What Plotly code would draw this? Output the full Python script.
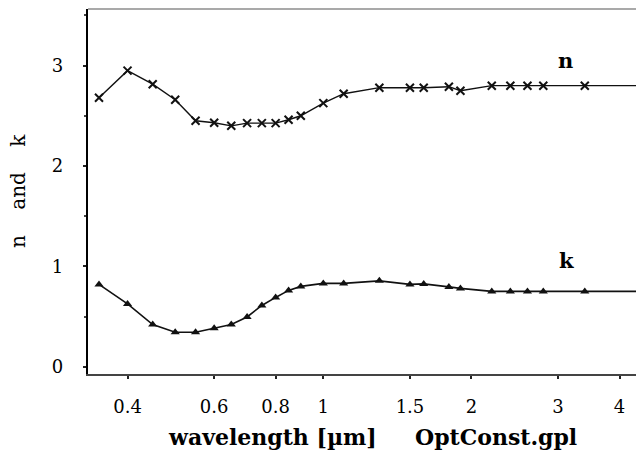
import plotly.graph_objects as go
import math

# ---- data ----
wavelength = [0.35, 0.4, 0.45, 0.5, 0.55, 0.6, 0.65, 0.7, 0.75, 0.8, 0.85, 0.9,
              1.0, 1.1, 1.3, 1.5, 1.6, 1.8, 1.9, 2.2, 2.4, 2.6, 2.8, 3.4, 5.0]
n_values = [2.68, 2.95, 2.815, 2.66, 2.45, 2.43, 2.40, 2.427, 2.427, 2.427, 2.46, 2.50,
            2.626, 2.72, 2.78, 2.78, 2.78, 2.79, 2.75, 2.80, 2.80, 2.80, 2.80, 2.80, 2.80]
k_values = [0.82, 0.625, 0.42, 0.343, 0.343, 0.383, 0.42, 0.495, 0.61, 0.69, 0.76, 0.80,
            0.83, 0.83, 0.855, 0.82, 0.825, 0.795, 0.78, 0.75, 0.75, 0.75, 0.75, 0.75, 0.75]
x_tick_vals = [0.4, 0.6, 0.8, 1, 1.5, 2, 3, 4]
x_tick_text = ["0.4", "0.6", "0.8", "1", "1.5", "2", "3", "4"]
y_tick_vals = [0, 1, 2, 3]
y_tick_text = ["0", "1", "2", "3"]

SERIF = "DejaVu Serif"
NB = "\u00a0"

fig = go.Figure()
fig.add_trace(go.Scatter(
    x=wavelength, y=n_values, mode="lines+markers", name="n",
    line=dict(color="#111111", width=1.4),
    marker=dict(symbol="x-thin", size=8, line=dict(color="#111111", width=2)),
))
fig.add_trace(go.Scatter(
    x=wavelength, y=k_values, mode="lines+markers", name="k",
    line=dict(color="#111111", width=1.6),
    marker=dict(symbol="triangle-up", size=8, color="#111111"),
))

fig.update_layout(
    width=636, height=453,
    margin=dict(l=88, r=0, t=9, b=79),
    paper_bgcolor="white", plot_bgcolor="white",
    showlegend=False,
    font=dict(family=SERIF, color="#111111"),
    xaxis=dict(
        type="log", range=[-0.4783, 0.6356],
        tickvals=x_tick_vals, ticktext=x_tick_text,
        showgrid=False, zeroline=False,
        showline=True, linecolor="#444444", linewidth=1.5,
        ticks="outside", ticklen=3, tickwidth=2, tickcolor="#222222",
        tickfont=dict(family=SERIF, size=18, color="#000000"),
        ticklabelstandoff=13,
    ),
    yaxis=dict(
        range=[-0.073, 3.564],
        tickvals=y_tick_vals, ticktext=y_tick_text,
        showgrid=False, zeroline=False,
        showline=True, linecolor="#000000", linewidth=2.2,
        ticks="outside", ticklen=3, tickwidth=2, tickcolor="#222222",
        minor=dict(tickvals=[0.5, 1.5, 2.5, 3.5], ticks="outside", ticklen=2,
                   tickwidth=1.5, tickcolor="#444444"),
        tickfont=dict(family=SERIF, size=18, color="#000000"),
        ticklabelstandoff=16,
    ),
    shapes=[dict(type="line", xref="paper", yref="paper", x0=0, x1=1, y0=1, y1=1,
                 line=dict(color="#555555", width=1.2))],
    annotations=[
        dict(text="<b>n</b>", x=math.log10(3.11), y=3.05, xref="x", yref="y",
             xanchor="center", yanchor="middle",
             showarrow=False, font=dict(family=SERIF, size=21, color="#000000")),
        dict(text="<b>k</b>", x=math.log10(3.12), y=1.06, xref="x", yref="y",
             xanchor="center", yanchor="middle",
             showarrow=False, font=dict(family=SERIF, size=21, color="#000000")),
        dict(text="n" + NB * 4 + "and" + NB * 4 + "k", xref="paper", yref="paper",
             x=0, y=(374 - 191) / 365, xshift=-70, xanchor="center", yanchor="middle",
             textangle=-90, showarrow=False,
             font=dict(family=SERIF, size=20, color="#000000")),
        dict(text="<b>wavelength [µm]</b>", xref="paper", yref="paper",
             x=(272 - 88) / 548, y=(374 - 437) / 365, xanchor="center", yanchor="middle",
             showarrow=False, font=dict(family=SERIF, size=22, color="#000000")),
        dict(text="<b>OptConst.gpl</b>", xref="paper", yref="paper",
             x=(496 - 88) / 548, y=(374 - 437) / 365, xanchor="center", yanchor="middle",
             showarrow=False, font=dict(family=SERIF, size=22, color="#000000")),
    ],
)

fig.write_html("out.html")
